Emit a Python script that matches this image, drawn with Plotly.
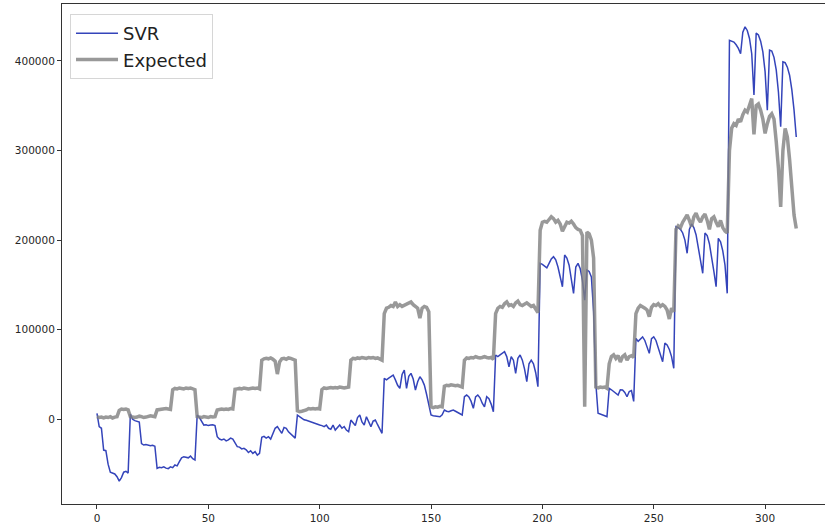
import plotly.graph_objects as go

# ---------------- data ----------------
# Expected (grey) series, by block of indices
exp_a = [3000, 2000, 2500, 1500, 2500, 2000, 3000, 1500, 2500, 3000, 10000, 11500, 11000, 11500, 10500]
exp_b = [3000, 2500, 2000, 2500, 3500, 3000, 2000, 2500, 3000, 4000, 3500, 3000,
         10500, 11000, 11500, 11000, 12000, 11500, 11000,
         33000, 34500, 34000, 35000, 34500, 34000, 35000, 34500, 35000, 34000, 33000]
exp_c = [3000, 2500, 2000, 3000, 2500, 2000, 3000, 2500, 3000,
         10500, 11000, 11500, 11000, 11500, 11000, 12000, 11500,
         33500, 34000, 34500, 34000, 35000, 34500, 34000, 34500, 35000, 34500, 35000, 34000,
         66000, 67500, 68000, 67500, 68500, 67000, 65000, 50500, 64000, 67500, 68000, 67000, 68500, 68000, 67500, 66000]
exp_d = [9500, 8500, 9000, 9500,
         10500, 12000, 11500, 12000, 11500, 12000, 11500,
         33000, 35000, 34500, 35000, 35500, 35000, 35500, 35000, 36000, 35500, 35000, 35500, 36000,
         66000, 68000, 67500, 68500, 68000, 69000, 68500, 68000, 69000, 68500, 69000, 68000, 68500, 67500, 66000,
         118000, 124000, 125000, 127000, 126000, 131000, 126000, 128000, 126000, 127000, 128000, 130000,
         131000, 128000, 126000, 124000, 113000, 124000, 126000, 125000, 120000]
exp_e = [14000, 13000, 14000, 13500, 14500, 14000,
         37000, 38000, 37500, 38500, 38000, 37500, 38000, 37000, 36000,
         66000, 68500, 68000, 69000, 68500, 70000, 69000, 68500, 69000, 70000, 69000, 68500, 69000, 67000,
         118000, 124000, 126000, 125000, 129000, 131000, 127000, 128000, 126000, 130000, 132000, 128000,
         127000, 129000, 130000, 128000, 126000, 127000, 122000, 119000]
exp_f = [211000, 220000, 221000, 220000, 223000, 226000, 224000, 220000, 222000, 218000, 210000, 216000,
         220000, 219000, 221000, 218000, 214000, 212000, 211000, 205000, 14000, 209000, 207000, 200000, 180000]
exp_g = [36000, 35000, 36000, 35500, 36000, 34500,
         62000, 70000, 72000, 68000, 71000, 64000, 70000, 72000, 66000, 70000, 71000, 69000,
         118000, 124000, 127000, 126000, 124000, 122000, 114500, 125000, 128000, 127000, 129000, 126000,
         128000, 126000, 122000, 112000, 124000, 120000]
exp_h = [212000, 216000, 214000, 220000, 224000, 228000, 222000, 215000, 226000, 230000, 224000, 220000,
         226000, 229000, 222000, 212000, 224000, 226000, 220000, 215000, 222000, 214000, 210000, 208000]
exp_i = [300000, 325000, 330000, 328000, 335000, 332000, 340000, 345000, 343000, 350000, 358000, 318000,
         350000, 352000, 345000, 335000, 319000, 330000, 338000, 341000, 335000, 310000, 280000, 237000,
         300000, 324700, 315000, 290000, 260000, 228000, 213000]

# SVR (blue) series, same blocks
svr_a = [6700, -8200, -10000, -34300, -35000, -50000, -59000, -60000, -61000, -64000, -69000, -65000, -59000, -58000, -60000]
svr_b = [6000, 0, -1500, -2000, -3000, -27000, -28700, -28000, -29000, -29500, -29000, -30000,
         -54700, -53600, -54000, -53000, -54500, -55000, -53000, -54000, -51000, -52000, -47300,
         -43000, -41700, -42000, -43000, -41000, -44000, -45400]
svr_c = [4800, 2000, -3000, -6400, -6000, -7000, -6400, -6000, -7000,
         -19400, -22000, -23000, -22000, -24000, -23000, -21000, -22000,
         -26000, -30500, -31000, -33000, -32400, -34000, -37000, -35000, -38000, -36000, -40000, -38000,
         -20000, -19000, -21000, -19400, -22000, -16000, -10000, -8200, -12000, -15600, -9000, -10000,
         -14000, -16500, -19000, -21000]
svr_d = [4800, 3000, 1000, -500, -1000, -2000, -3000, -3500, -4500, -5500, -6400,
         -7000, -8200, -6400, -10000, -11000, -6400, -12000, -9000, -6400, -10000, -8000, -12000, -13800,
         -800, -4500, -7000, 2000, 4800, -3000, -6400, 2900, -3000, -8200, -2000, -800, -6000, -11000, -15600,
         45700, 44000, 46000, 48000, 49400, 44000, 38000, 34600, 50000, 55000, 34600, 48000, 51300, 45000,
         32700, 42000, 47500, 44000, 38200, 28000, 16000]
svr_e = [4800, 4000, 3500, 3000, 2900, 5000,
         10400, 9000, 8500, 9500, 10400, 9000, 7500, 6000, 4800,
         25200, 27100, 25000, 20000, 12300, 25000, 27100, 24000, 18000, 14000, 25200, 23000, 17000, 8500,
         71800, 70000, 72000, 74000, 75500, 70000, 58700, 70000, 66000, 51300, 68000, 71800, 66000, 56000,
         42000, 62000, 66000, 62000, 52000, 36400]
svr_f = [174000, 173000, 171000, 169000, 174000, 179000, 181500, 178000, 170000, 160000, 148000, 183400,
         180000, 172000, 158000, 140600, 170000, 174000, 168000, 155000, 133000, 166600, 165000, 159000, 120000]
svr_g = [40000, 6700, 6000, 5000, 4000, 2900,
         34600, 33000, 31000, 29000, 27000, 33000, 32700, 30000, 25200, 31000, 32000, 20000,
         90400, 87000, 90000, 92000, 88000, 80000, 73600, 90000, 92000, 88000, 80000, 72000, 64300,
         85000, 83000, 78000, 70000, 56900]
svr_h = [215000, 214000, 212000, 208000, 200000, 185300, 212000, 218000, 214000, 206000, 192000, 178000,
         163000, 208000, 205000, 196000, 182000, 165000, 148000, 202000, 198000, 188000, 172000, 140600]
svr_i = [423000, 422000, 421000, 418000, 414000, 408000, 432000, 438000, 434000, 425000, 408000, 362000,
         431000, 429000, 422000, 410000, 388000, 345000, 412000, 411000, 404000, 390000, 365000, 326500,
         399000, 398000, 393000, 384000, 368000, 345000, 315000]

expected = exp_a + exp_b + exp_c + exp_d + exp_e + exp_f + exp_g + exp_h + exp_i
svr = svr_a + svr_b + svr_c + svr_d + svr_e + svr_f + svr_g + svr_h + svr_i
index = list(range(len(expected)))

x_ticks = [0, 50, 100, 150, 200, 250, 300]
y_ticks = [0, 100000, 200000, 300000, 400000]
y_tick_labels = ["0", "100000", "200000", "300000", "400000"]

# ---------------- figure ----------------
fig = go.Figure()
fig.add_trace(go.Scatter(x=index, y=svr, mode="lines", name="SVR",
                         line=dict(color="rgb(52,68,186)", width=1.5)))
fig.add_trace(go.Scatter(x=index, y=expected, mode="lines", name="Expected",
                         line=dict(color="rgba(128,128,128,0.8)", width=3.5)))

axis_font = dict(family="DejaVu Sans", size=10.5, color="#262626")
fig.update_layout(
    width=825, height=526,
    margin=dict(l=62, r=0, t=4, b=22),
    paper_bgcolor="white", plot_bgcolor="white",
    font=dict(family="DejaVu Sans"),
    legend=dict(x=0.0105, y=0.98, xanchor="left", yanchor="top",
                bgcolor="white", bordercolor="#d6d6d6", borderwidth=1,
                itemwidth=42,
                font=dict(family="DejaVu Sans", size=18, color="#222222")),
    xaxis=dict(range=[-15.7, 326.9], tickvals=x_ticks, ticks="outside", ticklen=4,
               tickcolor="#333333", tickfont=axis_font, showgrid=False, zeroline=False,
               showline=True, linecolor="#333333", linewidth=1, mirror=True),
    yaxis=dict(range=[-94500, 463500], tickvals=y_ticks, ticktext=y_tick_labels,
               ticks="outside", ticklen=4, tickcolor="#333333", tickfont=axis_font,
               showgrid=False, zeroline=False, showline=True, linecolor="#333333", linewidth=1),
)

fig.write_html("out.html")
